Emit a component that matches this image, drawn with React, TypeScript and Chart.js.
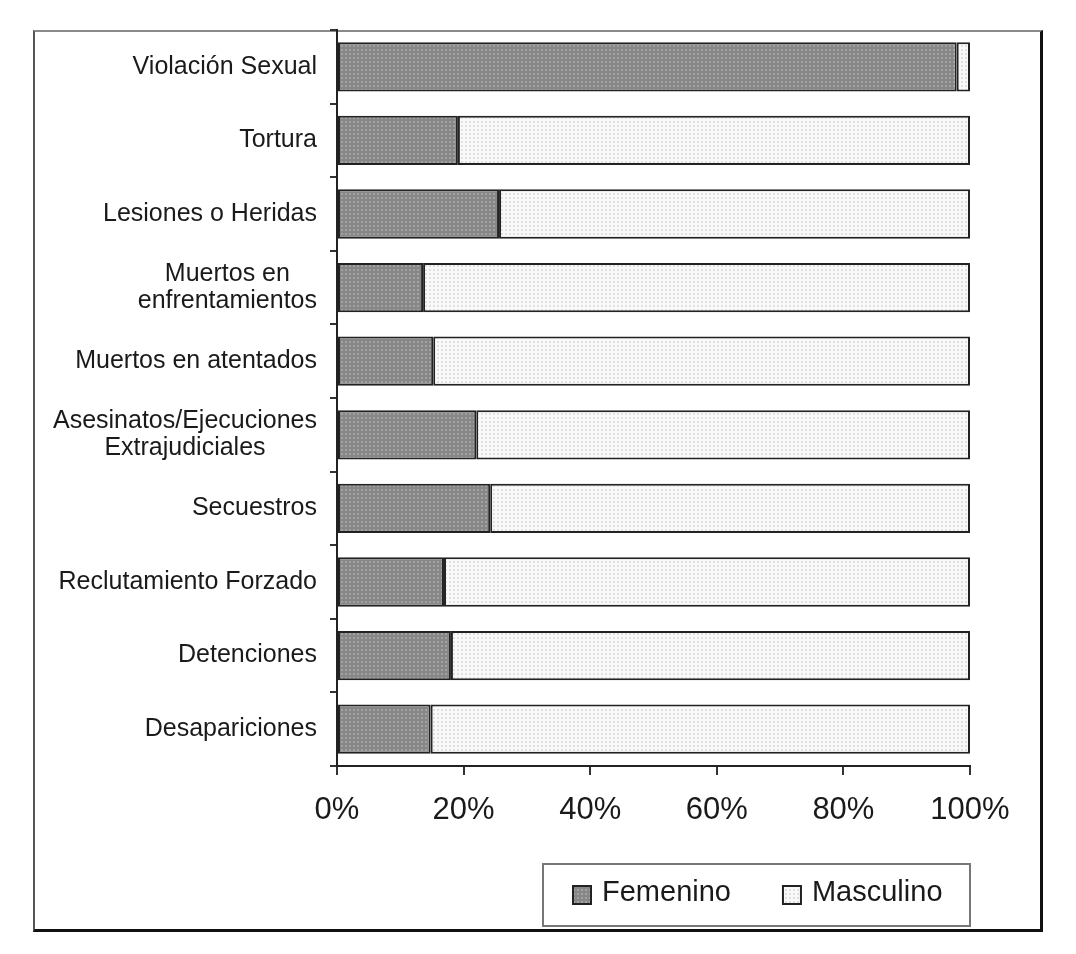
import React, { useEffect, useRef } from 'react';
import { Chart, registerables } from 'chart.js';

Chart.register(...registerables);

const categories: (string | string[])[] = [
  'Violación Sexual',
  'Tortura',
  'Lesiones o Heridas',
  ['Muertos en', 'enfrentamientos'],
  'Muertos en atentados',
  ['Asesinatos/Ejecuciones', 'Extrajudiciales'],
  'Secuestros',
  'Reclutamiento Forzado',
  'Detenciones',
  'Desapariciones',
];
const femenino = [97.9, 19.1, 25.6, 13.6, 15.2, 22.0, 24.2, 16.9, 18.0, 14.8];
const masculino = [2.1, 80.9, 74.4, 86.4, 84.8, 78.0, 75.8, 83.1, 82.0, 85.2];
const seriesNames = ['Femenino', 'Masculino'];
const xTickValues = [0, 20, 40, 60, 80, 100];

const FONT = '"Liberation Sans", Arial, Helvetica, sans-serif';
const TEXT = '#1a1a1a';

function makePattern(base: string, dot: string): CanvasPattern | string {
  const c = document.createElement('canvas');
  c.width = 4;
  c.height = 4;
  const g = c.getContext('2d');
  if (!g) return base;
  g.fillStyle = base;
  g.fillRect(0, 0, 4, 4);
  g.fillStyle = dot;
  g.fillRect(1, 1, 2, 2);
  return g.createPattern(c, 'repeat') || base;
}

const yLabelPlugin = {
  id: 'yLabels',
  afterDraw(chart: any) {
    const scale = chart.scales.y;
    const ctx = chart.ctx as CanvasRenderingContext2D;
    const size = 25;
    const lh = 27;
    ctx.save();
    ctx.font = `${size}px ${FONT}`;
    ctx.fillStyle = TEXT;
    ctx.textAlign = 'center';
    ctx.textBaseline = 'middle';
    const rightEdge = chart.chartArea.left - 20;
    categories.forEach((lab, i) => {
      const lines = Array.isArray(lab) ? lab : [lab];
      const w = Math.max(...lines.map((l) => ctx.measureText(l).width));
      const cx = rightEdge - w / 2;
      const cy = scale.getPixelForValue(i);
      lines.forEach((l, j) => {
        ctx.fillText(l, cx, cy + (j - (lines.length - 1) / 2) * lh);
      });
    });
    ctx.restore();
  },
};

const legendPlugin = {
  id: 'boxLegend',
  afterDraw(chart: any) {
    const ctx = chart.ctx as CanvasRenderingContext2D;
    const right = chart.chartArea.right;
    const width = 427;
    const left = right - width;
    const top = chart.height - 90;
    const h = 62;
    ctx.save();
    ctx.fillStyle = '#ffffff';
    ctx.fillRect(left, top, width, h);
    ctx.strokeStyle = '#777777';
    ctx.lineWidth = 2;
    ctx.strokeRect(left, top, width, h);
    ctx.font = `29px ${FONT}`;
    ctx.textBaseline = 'middle';
    ctx.textAlign = 'left';
    const cy = top + 31;
    let x = left + 30;
    chart.data.datasets.forEach((ds: any) => {
      ctx.fillStyle = ds.backgroundColor;
      ctx.fillRect(x, cy - 9, 18, 18);
      ctx.strokeStyle = '#222222';
      ctx.lineWidth = 2;
      ctx.strokeRect(x, cy - 9, 18, 18);
      ctx.fillStyle = TEXT;
      ctx.fillText(ds.label, x + 29, cy - 2);
      x = x + 29 + ctx.measureText(ds.label).width + 52;
    });
    ctx.restore();
  },
};

export default function App() {
  const ref = useRef<HTMLCanvasElement | null>(null);

  useEffect(() => {
    if (!ref.current) return;
    const femFill = makePattern('#878787', '#a2a2a2');
    const mascFill = makePattern('#f9f9f9', '#e0e0e0');
    const chart = new Chart(ref.current, {
      type: 'bar',
      data: {
        labels: categories,
        datasets: [
          {
            label: seriesNames[0],
            data: femenino,
            backgroundColor: femFill as any,
            borderColor: '#222222',
            borderWidth: 2,
            borderSkipped: false,
            barPercentage: 0.67,
            categoryPercentage: 1,
          },
          {
            label: seriesNames[1],
            data: masculino,
            backgroundColor: mascFill as any,
            borderColor: '#222222',
            borderWidth: 2,
            borderSkipped: false,
            barPercentage: 0.67,
            categoryPercentage: 1,
          },
        ],
      },
      options: {
        indexAxis: 'y',
        animation: false,
        responsive: true,
        maintainAspectRatio: false,
        layout: { padding: { left: 33, top: 30, right: 106, bottom: 108 } },
        plugins: {
          legend: { display: false },
          tooltip: { enabled: false },
        },
        scales: {
          x: {
            type: 'linear',
            stacked: true,
            min: 0,
            max: 100,
            afterBuildTicks: (scale: any) => {
              scale.ticks = xTickValues.map((v) => ({ value: v }));
            },
            afterFit: (scale: any) => {
              scale.height = 80;
            },
            ticks: {
              callback: (v: any) => `${v}%`,
              font: { family: FONT, size: 31 },
              color: TEXT,
              padding: 17,
              maxRotation: 0,
              autoSkip: false,
            },
            grid: {
              display: true,
              drawOnChartArea: false,
              drawTicks: true,
              tickLength: 9,
              color: '#333333',
              lineWidth: 2,
            },
            border: { display: true, color: '#222222', width: 2 },
          },
          y: {
            type: 'category',
            stacked: true,
            afterFit: (scale: any) => {
              scale.width = 337 - 33;
            },
            ticks: { display: false },
            grid: {
              display: true,
              offset: true,
              drawOnChartArea: false,
              drawTicks: true,
              tickLength: 7,
              color: '#333333',
              lineWidth: 2,
            },
            border: { display: true, color: '#222222', width: 2 },
          },
        },
      },
      plugins: [yLabelPlugin, legendPlugin],
    } as any);
    return () => chart.destroy();
  }, []);

  return (
    <div style={{ position: 'absolute', left: 0, top: 0, width: 1076, height: 954, background: '#ffffff' }}>
      <div
        style={{
          position: 'absolute',
          left: 33,
          top: 30,
          width: 1043 - 33,
          height: 932 - 30,
          boxSizing: 'border-box',
          borderTop: '2px solid #8a8a8a',
          borderLeft: '2px solid #555555',
          borderRight: '3px solid #111111',
          borderBottom: '3px solid #111111',
        }}
      />
      <div style={{ position: 'absolute', left: 0, top: 0, width: 1076, height: 954 }}>
        <canvas ref={ref} />
      </div>
    </div>
  );
}
